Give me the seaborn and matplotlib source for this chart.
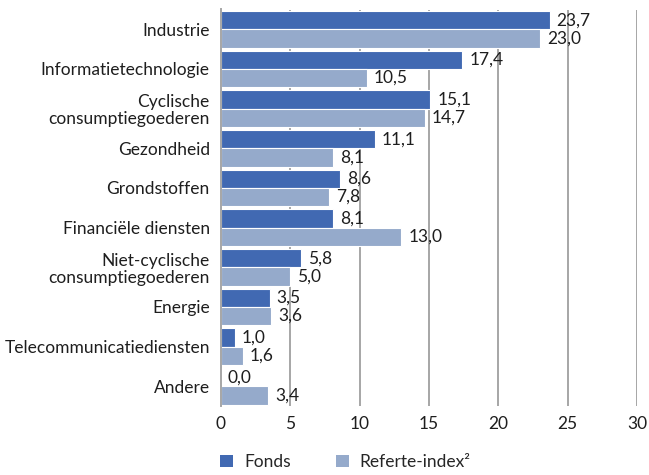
import matplotlib
matplotlib.use("Agg")
import matplotlib.pyplot as plt
from matplotlib.patches import Patch
import seaborn as sns
import pandas as pd

categories = [
    "Industrie",
    "Informatietechnologie",
    "Cyclische\nconsumptiegoederen",
    "Gezondheid",
    "Grondstoffen",
    "Financiële diensten",
    "Niet-cyclische\nconsumptiegoederen",
    "Energie",
    "Telecommunicatiediensten",
    "Andere",
]
fonds = [23.7, 17.4, 15.1, 11.1, 8.6, 8.1, 5.8, 3.5, 1.0, 0.0]
referte = [23.0, 10.5, 14.7, 8.1, 7.8, 13.0, 5.0, 3.6, 1.6, 3.4]
series_names = ["Fonds", "Referte-index²"]
colors = ["#4169B2", "#95AACB"]
xticks = [0, 5, 10, 15, 20, 25, 30]

df = pd.DataFrame({
    "sector": categories * 2,
    "value": fonds + referte,
    "serie": [series_names[0]] * len(categories) + [series_names[1]] * len(categories),
})

sns.set_theme(style="white")
plt.rcParams["font.family"] = ["Lato", "DejaVu Sans"]
FS = 12.5
TXT = "#1e1e1e"

fig = plt.figure(figsize=(6.49, 4.75), dpi=100)
ax = fig.add_axes([0.3405, 0.145, 0.641, 0.835])

sns.barplot(data=df, y="sector", x="value", hue="serie", orient="h",
            palette=colors, saturation=1, width=0.92, edgecolor="white",
            linewidth=0.8, order=categories, hue_order=series_names,
            legend=False, ax=ax)

ax.set_xlim(0, 30)
ax.set_ylim(len(categories) - 0.5, -0.5)
ax.set_xticks(xticks)
ax.set_xticklabels([str(t) for t in xticks], fontsize=FS, color=TXT)
ax.tick_params(axis="x", length=0, pad=7)
ax.tick_params(axis="y", length=0, pad=8)
for lab in ax.get_yticklabels():
    lab.set_fontsize(FS)
    lab.set_color(TXT)
    lab.set_linespacing(1.1)
ax.set_xlabel("")
ax.set_ylabel("")

ax.grid(axis="x", color="#A6A6A6", linewidth=1.4)
ax.grid(axis="y", visible=False)
ax.set_axisbelow(True)
for side in ["top", "right", "bottom"]:
    ax.spines[side].set_visible(False)
ax.spines["left"].set_color("#A6A6A6")
ax.spines["left"].set_linewidth(1.4)

for container in ax.containers:
    labels = [f"{bar.get_width():.1f}".replace(".", ",") for bar in container]
    ax.bar_label(container, labels=labels, padding=5, fontsize=FS, color=TXT)

handles = [Patch(facecolor=c, edgecolor="none") for c in colors]
fig.legend(handles, series_names, loc="center", bbox_to_anchor=(0.532, 0.027),
           ncol=2, frameon=False, fontsize=FS, handlelength=0.75, handleheight=0.75,
           handletextpad=0.6, columnspacing=2.6)

fig.savefig("out.png", dpi=100)
